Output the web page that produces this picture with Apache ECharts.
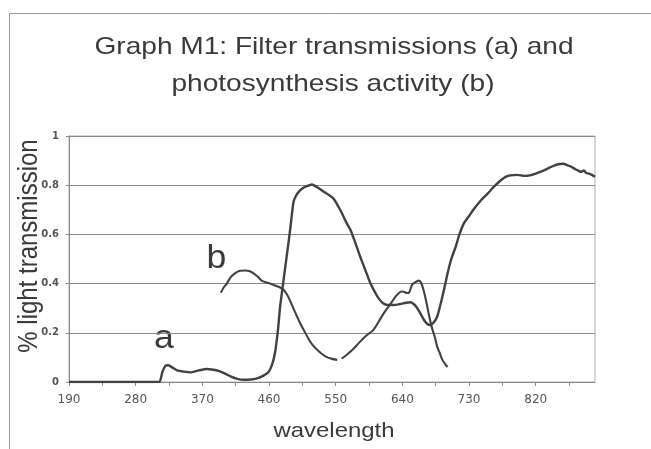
<!DOCTYPE html>
<html>
<head>
<meta charset="utf-8">
<script src="https://cdn.jsdelivr.net/npm/echarts@6/dist/echarts.min.js"></script>
<style>
html,body{margin:0;padding:0;background:#fff;}
#chart{width:651px;height:449px;}
</style>
</head>
<body>
<div id="chart"></div>
<script>
// Title and axis names
var titleLines = ['Graph M1: Filter transmissions (a) and', 'photosynthesis activity (b)'];
var xName = 'wavelength';
var yName = '% light transmission';

// Curve a: filter transmission
var waveA = [190,250,300,312,316,320,324,330,336,345,354,365,376,385,392,400,408,416,426,435,444,452,459,464,468,472,475,479,482,486,489,493,497,500,505,511,518,526,534,541,547,556,565,570,576,583,590,597,603,608,614,620,628,637,645,651,656,660,665,669,674,678,683,687,691,694,698,701,706,712,717,723,730,737,745,755,764,773,780,786,795,805,812,820,827,835,842,850,857,863,868,873,878,881,885,888,892,895,898,900];
var transA = [0,0,0,0,0.04,0.065,0.068,0.058,0.047,0.042,0.039,0.047,0.053,0.05,0.045,0.035,0.023,0.014,0.009,0.01,0.015,0.025,0.04,0.07,0.118,0.21,0.307,0.40,0.469,0.56,0.631,0.732,0.76,0.773,0.787,0.796,0.803,0.79,0.773,0.76,0.746,0.70,0.645,0.618,0.57,0.51,0.455,0.40,0.365,0.34,0.32,0.313,0.313,0.317,0.322,0.324,0.315,0.30,0.275,0.253,0.235,0.232,0.245,0.266,0.31,0.347,0.40,0.442,0.50,0.55,0.60,0.645,0.675,0.705,0.735,0.766,0.795,0.82,0.835,0.84,0.842,0.838,0.84,0.847,0.855,0.866,0.876,0.885,0.887,0.881,0.875,0.866,0.858,0.854,0.86,0.85,0.847,0.843,0.838,0.834];

// Curve b: photosynthesis activity (null = small break in the trace)
var waveB = [395,399,403,408,414,421,428,434,439,445,450,458,466,473,480,485,489,495,502,508,514,519,525,531,538,545,552,555,558,565,573,581,590,601,608,615,621,626,631,635,639,642,646,649,653,657,662,665,668,672,676,680,684,687,691,694,698,701];
var actB = [0.363,0.385,0.40,0.425,0.442,0.452,0.453,0.45,0.442,0.428,0.412,0.403,0.395,0.387,0.374,0.352,0.327,0.285,0.239,0.205,0.172,0.15,0.131,0.115,0.101,0.094,0.09,null,0.095,0.111,0.132,0.158,0.185,0.212,0.245,0.28,0.305,0.327,0.348,0.361,0.368,0.367,0.362,0.363,0.395,0.405,0.412,0.405,0.38,0.33,0.27,0.219,0.18,0.144,0.113,0.09,0.072,0.061];

// Curve labels and where they sit (data coordinates)
var curveLabels = ['a', 'b'];
var labelPos = [[318, 0.107], [389, 0.435]];

// Axis ticks
var xMin = 190, xMax = 900, xTickStep = 45, xLabelStep = 90;
var yTicks = [0, 0.2, 0.4, 0.6, 0.8, 1];

function pairs(xs, ys){ return xs.map(function(x,i){ return [x, ys[i]]; }); }

var chart = echarts.init(document.getElementById('chart'), null, {renderer:'canvas'});
var lineColor = '#414141';
var textColor = '#3a3a3a';
var option = {
  animation: false,
  backgroundColor: '#fff',
  grid: {left: 69, right: 56, top: 136, bottom: 67, show: true, borderColor: '#b0b0b0', borderWidth: 1},
  xAxis: {
    type: 'value', min: xMin, max: xMax, interval: xTickStep,
    axisLine: {show: true, lineStyle: {color: '#888', width: 1}},
    axisTick: {show: true, length: 4, lineStyle: {color: '#888'}},
    splitLine: {show: false},
    axisLabel: {
      margin: 12, color: '#555', fontFamily: 'DejaVu Sans', fontSize: 12,
      showMaxLabel: false,
      formatter: function(v){ return ((v - xMin) % xLabelStep === 0 && v < xMax) ? String(v) : ''; }
    }
  },
  yAxis: {
    type: 'value', min: yTicks[0], max: yTicks[yTicks.length-1], interval: 0.2,
    axisLine: {show: true, lineStyle: {color: '#888', width: 1}},
    axisTick: {show: true, length: 3, lineStyle: {color: '#888'}},
    splitLine: {show: true, lineStyle: {color: '#8c8c8c', width: 1}},
    axisLabel: {
      margin: 10, color: '#555', fontFamily: 'DejaVu Sans', fontSize: 10, fontWeight: 'bold',
      formatter: function(v){ return (v === 0 || v === 1) ? String(v) : v.toFixed(1); }
    }
  },
  series: [
    {type: 'line', name: 'a', data: pairs(waveA, transA), showSymbol: false, smooth: 0.2,
     lineStyle: {color: lineColor, width: 2.4}, itemStyle: {color: lineColor}, z: 3},
    {type: 'line', name: 'b', data: pairs(waveB, actB), showSymbol: false, smooth: 0.2, connectNulls: false,
     lineStyle: {color: lineColor, width: 2.1}, itemStyle: {color: lineColor}, z: 3}
  ],
  graphic: [
    {type: 'rect', shape: {x: 9.5, y: 13.5, width: 720, height: 520}, style: {fill: 'none', stroke: '#9a9a9a', lineWidth: 1}, silent: true, z: -1},
    {type: 'text', x: 334, y: 47, scaleX: 1.17, style: {text: titleLines[0], font: '24px "Liberation Sans", Arial, sans-serif', fill: textColor, textAlign: 'center', textVerticalAlign: 'middle'}},
    {type: 'text', x: 333, y: 84, scaleX: 1.17, style: {text: titleLines[1], font: '24px "Liberation Sans", Arial, sans-serif', fill: textColor, textAlign: 'center', textVerticalAlign: 'middle'}},
    {type: 'text', x: 334, y: 431, scaleX: 1.14, style: {text: xName, font: '21px "Liberation Sans", Arial, sans-serif', fill: textColor, textAlign: 'center', textVerticalAlign: 'middle'}},
    {type: 'text', x: 30, y: 246, rotation: Math.PI/2, scaleY: 1.12, style: {text: yName, font: '24px "Liberation Sans", Arial, sans-serif', fill: textColor, textAlign: 'center', textVerticalAlign: 'middle'}}
  ]
};
chart.setOption(option);

var extra = curveLabels.map(function(t, i){
  var p = chart.convertToPixel({gridIndex: 0}, labelPos[i]);
  return {type: 'text', x: p[0], y: p[1], scaleX: 1.08,
    style: {text: t, font: '33px "Liberation Sans", Arial, sans-serif', fill: textColor, textAlign: 'center', textVerticalAlign: 'bottom'}};
});
chart.setOption({graphic: option.graphic.concat(extra)});
</script>
</body>
</html>
